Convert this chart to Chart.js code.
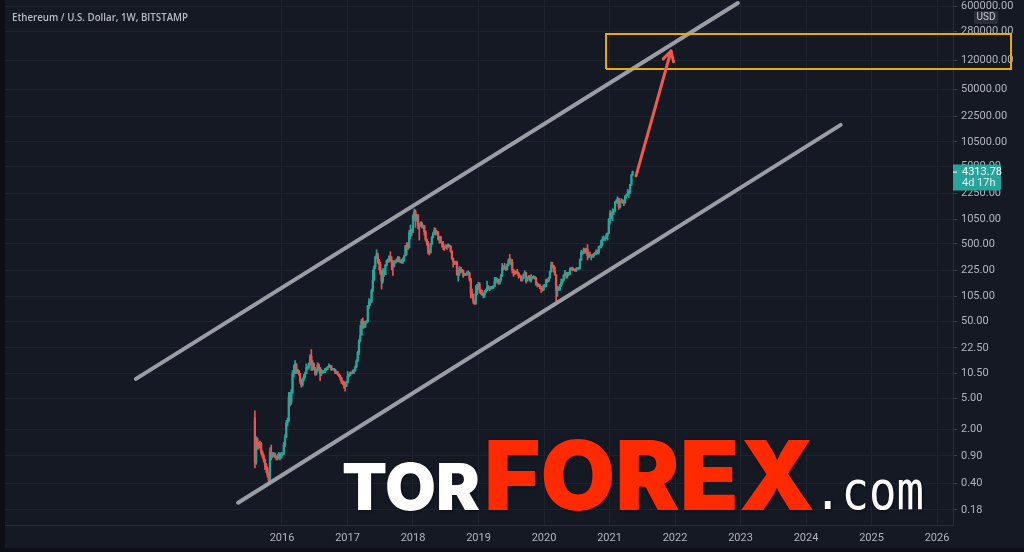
<!DOCTYPE html>
<html>
<head>
<meta charset="utf-8">
<title>Ethereum / U.S. Dollar, 1W, BITSTAMP</title>
<script src="https://cdn.jsdelivr.net/npm/chart.js@4.4.1/dist/chart.umd.min.js"></script>
<style>
  html, body { margin: 0; padding: 0; background: #151924; }
  #wrap { width: 1024px; height: 552px; }
</style>
</head>
<body>
<div id="wrap"><canvas id="myChart" width="1024" height="552"></canvas></div>
<script>
// weekly candles, first week starts Monday 2015-08-03
const firstWeek = "2015-08-03";
const firstOpen = 2.80;

const closes = [
  // 2015
  0.75, 1.50, 1.25, 1.20, 1.30, 1.00, 0.90, 0.80, 0.70, 0.62, 0.52, 0.44, 1.00, 0.90, 0.95, 0.95, 0.88, 0.85, 0.85, 0.95, 0.85, 0.95,
  // 2016
  0.95, 1.25, 1.60, 2.40, 2.60, 5.20, 4.50, 6.00, 10.5, 11.5, 14.0, 11.5, 11.5, 10.5, 8.50, 7.50, 8.80, 9.50, 10.5, 12.5, 12.5, 14.0,
  17.5, 13.5, 14.0, 12.5, 10.5, 11.5, 13.5, 12.5, 10.5, 11.0, 11.0, 11.3, 12.0, 12.0, 12.7, 13.0, 13.2, 11.8, 11.9, 11.9, 11.0, 11.0,
  10.3, 9.90, 9.30, 8.30, 8.00, 7.80, 7.20, 8.10,
  // 2017
  9.70, 9.80, 10.7, 10.6, 11.4, 11.3, 12.8, 15.2, 19.5, 28.0, 33.0, 50.0, 48.0, 42.0, 48.0, 49.0, 79.0, 89.0, 90.0, 125, 170, 250,
  340, 360, 310, 270, 210, 165, 225, 200, 265, 300, 298, 345, 305, 290, 255, 290, 300, 300, 335, 295, 300, 295, 320, 350, 470, 460,
  450, 695, 750, 710,
  // 2018
  1150, 1300, 1050, 1180, 870, 850, 930, 840, 855, 720, 570, 530, 400, 385, 500, 605, 680, 750, 725, 710, 580, 620, 525, 500, 460, 450,
  475, 470, 470, 465, 400, 320, 295, 285, 290, 200, 210, 245, 230, 225, 195, 205, 200, 210, 210, 175, 115, 110, 90, 84, 115, 135, 150,
  // 2019
  125, 115, 110, 110, 120, 125, 138, 130, 135, 135, 137, 142, 165, 163, 170, 155, 170, 195, 245, 250, 245, 235, 270, 305, 290,
  290, 230, 220, 205, 220, 210, 195, 190, 170, 180, 200, 215, 165, 180, 190, 170, 180, 185, 185, 180, 150, 150, 145, 140, 130, 128, 145,
  // 2020
  145, 170, 165, 180, 220, 265, 260, 220, 200, 125, 130, 130, 145, 160, 170, 195, 210, 200, 200, 205, 230, 245, 235, 230, 225, 240,
  240, 240, 310, 385, 395, 430, 390, 430, 350, 365, 340, 355, 350, 370, 370, 405, 385, 460, 460, 550, 575, 575, 585, 640, 685, 1050,
  // 2021
  1250, 1230, 1320, 1370, 1750, 1780, 1930, 1500, 1740, 1800, 1780, 1690, 2080, 2150, 2240, 2310, 2950, 3900, 4313.78
];

const highs = [
  // 2015
  3.46, 1.60, 1.55, 1.35, 1.40, 1.35, 1.05, 0.95, 0.82, 0.72, 0.65, 0.55, 1.15, 1.25, 1.00, 1.00, 0.98, 0.90, 0.95, 1.00, 0.98, 1.00,
  // 2016
  1.00, 1.35, 1.70, 2.60, 2.80, 6.00, 6.00, 6.50, 11.5, 13.5, 15.5, 14.0, 12.0, 11.5, 10.5, 8.90, 9.20, 10.2, 11.0, 14.0, 13.2, 14.5,
  18.5, 21.5, 15.5, 14.5, 12.5, 12.0, 14.5, 14.0, 12.5, 12.0, 11.5, 11.5, 12.3, 12.4, 13.0, 14.0, 13.5, 13.3, 12.0, 12.2, 12.0, 11.3,
  11.2, 10.5, 10.0, 9.40, 8.50, 8.40, 8.10, 8.30,
  // 2017
  11.2, 10.3, 11.0, 10.8, 11.7, 11.7, 13.2, 15.8, 20.5, 29.0, 44.0, 53.0, 55.0, 50.0, 50.0, 51.0, 80.0, 98.0, 95.0, 130, 230, 260,
  345, 420, 380, 315, 290, 225, 240, 240, 270, 310, 320, 350, 395, 340, 305, 300, 310, 320, 345, 340, 310, 315, 330, 360, 480, 520,
  520, 750, 880, 780,
  // 2018
  1200, 1420, 1380, 1200, 1200, 900, 970, 960, 880, 870, 740, 580, 540, 420, 510, 620, 710, 810, 800, 740, 720, 630, 630, 530, 540, 470,
  490, 480, 500, 485, 475, 410, 330, 300, 300, 300, 225, 255, 250, 235, 230, 210, 205, 220, 225, 215, 180, 130, 112, 92, 145, 150, 160,
  // 2019
  158, 130, 125, 115, 125, 130, 165, 145, 140, 140, 142, 145, 185, 185, 180, 175, 175, 200, 280, 265, 280, 255, 275, 320, 365,
  320, 315, 235, 225, 225, 235, 215, 200, 195, 185, 205, 225, 215, 185, 195, 195, 200, 190, 195, 190, 185, 158, 152, 150, 142, 135, 148,
  // 2020
  150, 175, 175, 185, 225, 290, 290, 265, 250, 200, 140, 140, 150, 175, 175, 200, 227, 215, 215, 215, 245, 250, 250, 238, 235, 245,
  245, 242, 320, 415, 400, 445, 440, 435, 490, 390, 395, 360, 365, 380, 390, 420, 420, 465, 475, 560, 620, 635, 600, 680, 700, 1060,
  // 2021
  1350, 1300, 1430, 1400, 1780, 1870, 2040, 1950, 1800, 1930, 1880, 1800, 2100, 2200, 2550, 2450, 2950, 3950, 4380
];

const lows = [
  // 2015
  0.63, 0.70, 1.10, 1.10, 1.15, 0.95, 0.85, 0.75, 0.60, 0.55, 0.48, 0.42, 0.43, 0.80, 0.85, 0.88, 0.85, 0.80, 0.80, 0.82, 0.80, 0.84,
  // 2016
  0.90, 0.95, 1.20, 1.55, 2.20, 2.50, 4.00, 4.20, 5.80, 9.50, 10.5, 10.5, 10.5, 10.0, 7.80, 7.00, 7.20, 8.40, 9.20, 10.5, 12.0, 12.0,
  13.5, 11.5, 11.5, 11.8, 10.0, 10.0, 11.0, 11.5, 8.50, 9.80, 10.5, 10.8, 10.8, 11.5, 11.8, 12.5, 12.7, 11.5, 11.6, 11.5, 10.5, 10.5,
  10.0, 9.50, 8.70, 7.80, 7.50, 6.80, 6.20, 7.10,
  // 2017
  7.90, 9.50, 9.90, 10.4, 10.6, 10.5, 11.3, 12.5, 15.0, 18.5, 27.0, 33.0, 40.0, 41.0, 41.0, 47.0, 49.0, 72.0, 80.0, 87.0, 120, 170,
  240, 320, 280, 230, 200, 130, 155, 190, 200, 260, 285, 290, 300, 230, 195, 250, 280, 290, 295, 290, 285, 280, 280, 300, 350, 360,
  420, 440, 580, 640,
  // 2018
  700, 1000, 820, 980, 780, 560, 840, 800, 800, 650, 545, 480, 370, 360, 380, 490, 600, 660, 650, 670, 560, 510, 520, 455, 420, 410,
  440, 425, 445, 460, 390, 315, 250, 270, 270, 195, 165, 195, 210, 215, 185, 195, 195, 195, 205, 165, 100, 100, 85, 82, 83, 110, 130,
  // 2019
  115, 112, 107, 100, 102, 118, 125, 128, 124, 130, 131, 132, 140, 155, 160, 150, 150, 165, 190, 230, 235, 225, 230, 260, 280,
  270, 210, 190, 200, 205, 205, 180, 185, 165, 165, 178, 195, 155, 165, 175, 165, 160, 175, 180, 175, 145, 138, 140, 132, 118, 122, 125,
  // 2020
  138, 140, 158, 162, 180, 215, 245, 215, 195, 90, 105, 125, 125, 140, 150, 168, 190, 180, 180, 195, 200, 230, 225, 225, 220, 220,
  235, 230, 238, 305, 365, 375, 380, 375, 310, 330, 340, 310, 335, 335, 360, 365, 370, 370, 440, 445, 480, 560, 545, 580, 560, 680,
  // 2021
  900, 1050, 1000, 1200, 1300, 1680, 1660, 1400, 1460, 1700, 1680, 1560, 1680, 1950, 2100, 2000, 2250, 2850, 3880
];

// price axis labels and time axis labels
const yTicks = [0.18, 0.40, 0.90, 2.00, 5.00, 10.50, 22.50, 50.00, 105.00, 225.00, 500.00, 1050.00,
  2250.00, 5000.00, 10500.00, 22500.00, 50000.00, 120000.00, 280000.00, 600000.00];
const yearTicks = [2016, 2017, 2018, 2019, 2020, 2021, 2022, 2023, 2024, 2025, 2026];

// drawings, as [year, price]
const channelUpper = [[2013.77, 8.97], [2022.96, 656000]];
const channelLower = [[2015.33, 0.2234], [2024.53, 17340]];
const targetZone = [[2020.947, 91900], [2027.13, 260600]];
const arrowPath = [[2021.405, 3794], [2021.939, 157000]];

const titleText = "Ethereum / U.S. Dollar, 1W, BITSTAMP";
const countdownText = "4d 17h";

const upColor = "#26a69a";
const downColor = "#ef5350";

function toYear(ms) {
  const d = new Date(ms);
  const y = d.getUTCFullYear();
  const s = Date.UTC(y, 0, 1), e = Date.UTC(y + 1, 0, 1);
  return y + (ms - s) / (e - s);
}

const start = Date.parse(firstWeek + "T00:00:00Z");
const weeks = closes.map((c, i) => toYear(start + i * 7 * 864e5));
const opens = closes.map((c, i) => (i === 0 ? firstOpen : closes[i - 1]));
const colors = closes.map((c, i) => (c >= opens[i] ? upColor : downColor));

const bodies = weeks.map((t, i) => ({ x: t, y: [opens[i], closes[i]] }));
const wicks = weeks.map((t, i) => ({ x: t, y: [lows[i], highs[i]] }));

const pts = (arr) => arr.map((p) => ({ x: p[0], y: p[1] }));
const zone = [
  { x: targetZone[0][0], y: targetZone[0][1] },
  { x: targetZone[1][0], y: targetZone[0][1] },
  { x: targetZone[1][0], y: targetZone[1][1] },
  { x: targetZone[0][0], y: targetZone[1][1] },
  { x: targetZone[0][0], y: targetZone[0][1] }
];

function drawFit(ctx, text, font, x, base, w, color) {
  ctx.font = font;
  const m = ctx.measureText(text).width;
  ctx.save();
  ctx.translate(x, base);
  ctx.scale(w / m, 1);
  ctx.fillStyle = color;
  ctx.fillText(text, 0, 0);
  ctx.restore();
}

const artPlugin = {
  id: "art",
  beforeDraw(chart) {
    const ctx = chart.ctx;
    ctx.save();
    ctx.fillStyle = "#151924";
    ctx.fillRect(0, 0, chart.width, chart.height);
    ctx.restore();
  },
  afterDatasetsDraw(chart) {
    // arrow head on the red arrow
    const ctx = chart.ctx;
    const meta = chart.getDatasetMeta(0);
    const p0 = meta.data[0], p1 = meta.data[1];
    const ang = Math.atan2(p1.y - p0.y, p1.x - p0.x);
    ctx.save();
    ctx.strokeStyle = "#f05a4b";
    ctx.lineWidth = 3;
    ctx.lineCap = "round";
    ctx.beginPath();
    [-0.5, 0.5].forEach((d) => {
      ctx.moveTo(p1.x, p1.y);
      ctx.lineTo(p1.x - 11 * Math.cos(ang + d), p1.y - 11 * Math.sin(ang + d));
    });
    ctx.stroke();
    ctx.restore();
  },
  afterDraw(chart) {
    const ctx = chart.ctx;
    const y = chart.scales.y;
    const area = chart.chartArea;
    ctx.save();

    // frame edges
    ctx.fillStyle = "#0d0f15";
    ctx.fillRect(0, 0, 5, chart.height);
    ctx.fillRect(0, 548, chart.width, 4);

    // title
    ctx.textBaseline = "alphabetic";
    drawFit(ctx, titleText, '600 11px "Open Sans"', 12, 21, 176, "#b8bbc4");

    // currency badge
    ctx.fillStyle = "#2a2e39";
    ctx.beginPath();
    ctx.roundRect(974, 11, 24, 13, 2);
    ctx.fill();
    ctx.fillStyle = "#c8cbd3";
    ctx.font = '10px Roboto';
    ctx.textAlign = "center";
    ctx.textBaseline = "middle";
    ctx.fillText("USD", 986, 17.5);

    // last price label
    const last = closes[closes.length - 1];
    const py = y.getPixelForValue(last);
    ctx.fillStyle = upColor;
    ctx.beginPath();
    ctx.roundRect(area.right, py - 7, 48, 26, [0, 2, 2, 0]);
    ctx.fill();
    ctx.fillStyle = "#ffffff";
    ctx.fillRect(area.right, py, 4, 1);
    ctx.textAlign = "left";
    ctx.font = '11px Roboto';
    ctx.fillText(last.toFixed(2), 962, py + 1);
    ctx.fillStyle = "rgba(255,255,255,0.85)";
    ctx.fillText(countdownText, 962, py + 12);

    // watermark
    ctx.textAlign = "left";
    ctx.textBaseline = "alphabetic";
    ctx.shadowColor = "rgba(0,0,0,0.55)";
    ctx.shadowBlur = 3;
    ctx.shadowOffsetX = 1;
    ctx.shadowOffsetY = 1;
    drawFit(ctx, "TOR", '900 65px Inter', 342, 510, 138, "#ffffff");
    drawFit(ctx, "FOREX", '900 96px Inter', 484, 510, 331, "#ff2a00");
    drawFit(ctx, ".com", '54px "DejaVu Sans Mono"', 814, 509, 110, "#ffffff");
    ctx.restore();
  }
};

const lineBase = { type: "line", pointRadius: 0, fill: false, tension: 0, clip: false };

new Chart(document.getElementById("myChart"), {
  type: "bar",
  data: {
    datasets: [
      { ...lineBase, data: pts(arrowPath), borderColor: "#f05a4b", borderWidth: 3, borderCapStyle: "round" },
      { ...lineBase, data: zone, borderColor: "#e8ac0c", borderWidth: 2, borderJoinStyle: "miter" },
      { ...lineBase, data: pts(channelUpper), borderColor: "#9a9da4", borderWidth: 4, borderCapStyle: "round" },
      { ...lineBase, data: pts(channelLower), borderColor: "#9a9da4", borderWidth: 4, borderCapStyle: "round" },
      { data: bodies, backgroundColor: colors, barThickness: 1.6, minBarLength: 1, grouped: false, borderWidth: 0 },
      { data: wicks, backgroundColor: colors, barThickness: 1, grouped: false, borderWidth: 0 }
    ]
  },
  options: {
    responsive: false,
    animation: false,
    devicePixelRatio: 1,
    layout: { padding: 0 },
    plugins: { legend: { display: false }, tooltip: { enabled: false } },
    scales: {
      x: {
        type: "linear",
        min: 2011.695,
        max: 2026.244,
        offset: false,
        afterBuildTicks: (s) => { s.ticks = yearTicks.map((v) => ({ value: v })); },
        afterFit: (s) => { s.height = 27; s.paddingLeft = 0; s.paddingRight = 0; },
        ticks: {
          color: "#b2b5be",
          font: { family: "Roboto", size: 11 },
          padding: 7,
          autoSkip: false,
          maxRotation: 0,
          callback: (v) => String(v)
        },
        grid: { color: "#1f2330", drawTicks: false, offset: false },
        border: { color: "#2a2e39" }
      },
      y: {
        type: "logarithmic",
        position: "right",
        min: 0.1151,
        max: 717600,
        afterBuildTicks: (s) => { s.ticks = yTicks.map((v) => ({ value: v })); },
        afterFit: (s) => { s.width = 71; s.paddingTop = 0; s.paddingBottom = 0; },
        ticks: {
          color: "#b2b5be",
          font: { family: "Roboto", size: 11 },
          padding: 4,
          autoSkip: false,
          callback: (v) => Number(v).toFixed(2)
        },
        grid: { color: "#1f2330", tickLength: 4, tickColor: "#3a3e4a" },
        border: { color: "#2a2e39" }
      }
    }
  },
  plugins: [artPlugin]
});
</script>
</body>
</html>
